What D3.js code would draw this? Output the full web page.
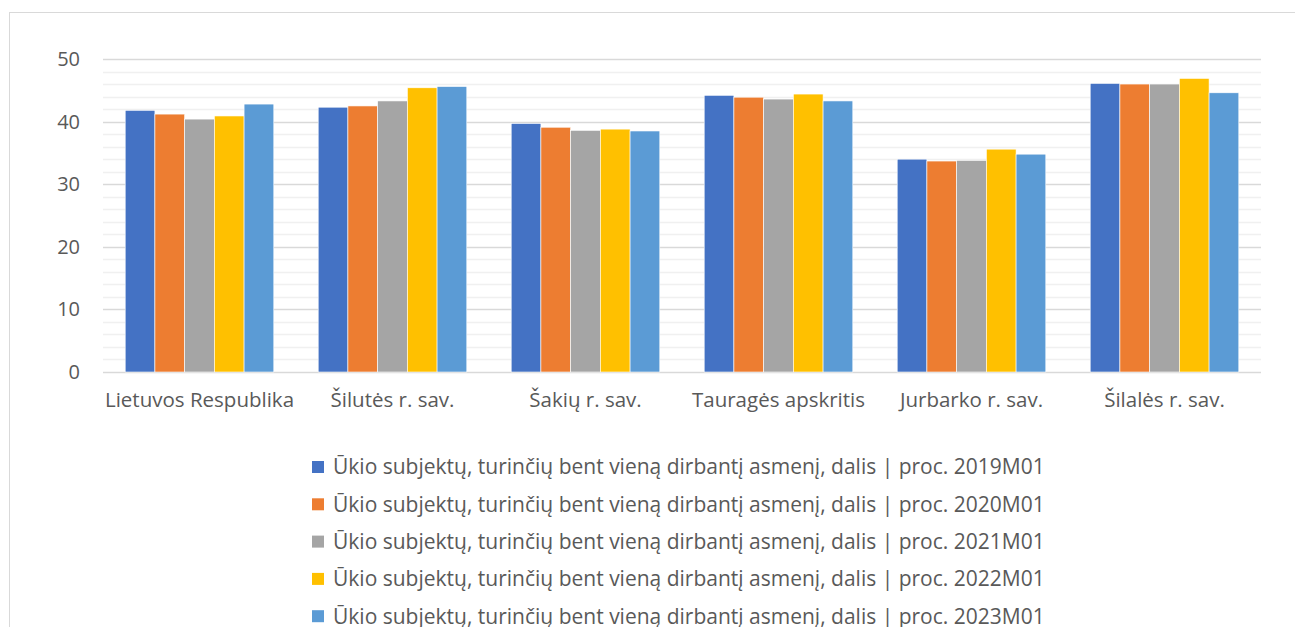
<!DOCTYPE html>
<html>
<head>
<meta charset="utf-8">
<script src="https://cdn.jsdelivr.net/npm/d3@7"></script>
<style>
  body { margin: 0; background: #fff; }
  svg { display: block; font-family: "Open Sans", "Noto Sans", sans-serif; }
</style>
</head>
<body>
<svg id="chart" width="1295" height="627"></svg>
<script>
// categories and series
const categories = ["Lietuvos Respublika", "Šilutės r. sav.", "Šakių r. sav.", "Tauragės apskritis", "Jurbarko r. sav.", "Šilalės r. sav."];
const seriesNames = [
  "Ūkio subjektų, turinčių bent vieną dirbantį asmenį, dalis | proc. 2019M01",
  "Ūkio subjektų, turinčių bent vieną dirbantį asmenį, dalis | proc. 2020M01",
  "Ūkio subjektų, turinčių bent vieną dirbantį asmenį, dalis | proc. 2021M01",
  "Ūkio subjektų, turinčių bent vieną dirbantį asmenį, dalis | proc. 2022M01",
  "Ūkio subjektų, turinčių bent vieną dirbantį asmenį, dalis | proc. 2023M01"
];
const values2019 = [41.8, 42.3, 39.7, 44.2, 34.0, 46.1];
const values2020 = [41.2, 42.5, 39.1, 43.9, 33.7, 46.0];
const values2021 = [40.4, 43.3, 38.6, 43.6, 33.8, 46.0];
const values2022 = [40.9, 45.4, 38.8, 44.4, 35.6, 46.9];
const values2023 = [42.8, 45.6, 38.5, 43.3, 34.8, 44.6];
const yTicks = [0, 10, 20, 30, 40, 50];
const colors = ["#4472C4", "#ED7D31", "#A5A5A5", "#FFC000", "#5B9BD5"];

const allSeries = [values2019, values2020, values2021, values2022, values2023];

const svg = d3.select("#chart");

// outer frame (top and left edges visible)
svg.append("line").attr("x1", 9).attr("x2", 1295).attr("y1", 12.5).attr("y2", 12.5)
  .style("stroke", "#d9d9d9");
svg.append("line").attr("x1", 9.5).attr("x2", 9.5).attr("y1", 12).attr("y2", 627)
  .style("stroke", "#d9d9d9");

const margin = { left: 103, right: 1261, top: 59, bottom: 372 };

const xScale = d3.scaleBand()
  .domain(categories)
  .range([margin.left, margin.right])
  .paddingInner(0.23)
  .paddingOuter(0.115);

const xSub = d3.scaleBand()
  .domain(d3.range(seriesNames.length))
  .range([0, xScale.bandwidth()]);

const yScale = d3.scaleLinear()
  .domain([0, 50])
  .range([margin.bottom, margin.top]);

// minor gridlines
const minor = d3.range(0, 51, 2).filter(d => d % 10 !== 0);
svg.append("g")
  .selectAll("line")
  .data(minor)
  .enter()
  .append("line")
  .attr("x1", margin.left).attr("x2", margin.right)
  .attr("y1", d => Math.round(yScale(d)) + 0.5)
  .attr("y2", d => Math.round(yScale(d)) + 0.5)
  .style("stroke", "#f0f0f0")
  .style("stroke-width", 1.5);

// major gridlines
svg.append("g")
  .selectAll("line")
  .data(yTicks)
  .enter()
  .append("line")
  .attr("x1", margin.left).attr("x2", margin.right)
  .attr("y1", d => Math.round(yScale(d)) + 0.5)
  .attr("y2", d => Math.round(yScale(d)) + 0.5)
  .style("stroke", "#d9d9d9")
  .style("stroke-width", 1.5);

// bars
allSeries.forEach((vals, s) => {
  svg.append("g")
    .selectAll("rect")
    .data(vals)
    .enter()
    .append("rect")
    .attr("x", (d, i) => xScale(categories[i]) + xSub(s))
    .attr("y", d => yScale(d))
    .attr("width", xSub.bandwidth())
    .attr("height", d => yScale(0) - yScale(d))
    .style("fill", colors[s])
    .style("stroke", "#fff")
    .style("stroke-width", 0.6);
});

// y axis
const yAxis = svg.append("g")
  .attr("transform", "translate(" + (margin.left - 23) + ",0)")
  .call(d3.axisLeft(yScale).tickValues(yTicks).tickSize(0).tickPadding(0));
yAxis.select(".domain").remove();
yAxis.selectAll("text")
  .style("font-size", "20px")
  .style("fill", "#595959")
  .style("font-family", "'Open Sans', sans-serif");

// x axis labels
const xAxis = svg.append("g")
  .attr("transform", "translate(0," + margin.bottom + ")")
  .call(d3.axisBottom(xScale).tickSize(0).tickPadding(20));
xAxis.select(".domain").remove();
xAxis.selectAll("text")
  .style("font-size", "20.5px")
  .style("fill", "#595959")
  .style("font-family", "'Open Sans', sans-serif");

// legend
const legend = svg.append("g")
  .attr("class", "legend")
  .attr("transform", "translate(312, 467)");

const legendItems = legend.selectAll("g")
  .data(seriesNames)
  .enter()
  .append("g")
  .attr("transform", (d, i) => "translate(0," + (i * 37.3) + ")");

legendItems.append("rect")
  .attr("x", 0)
  .attr("y", -6)
  .attr("width", 12)
  .attr("height", 12)
  .style("fill", (d, i) => colors[i]);

legendItems.append("text")
  .attr("x", 21)
  .attr("y", 0)
  .attr("dy", "0.35em")
  .text(d => d)
  .style("font-size", "21px")
  .style("fill", "#595959");
</script>
</body>
</html>
